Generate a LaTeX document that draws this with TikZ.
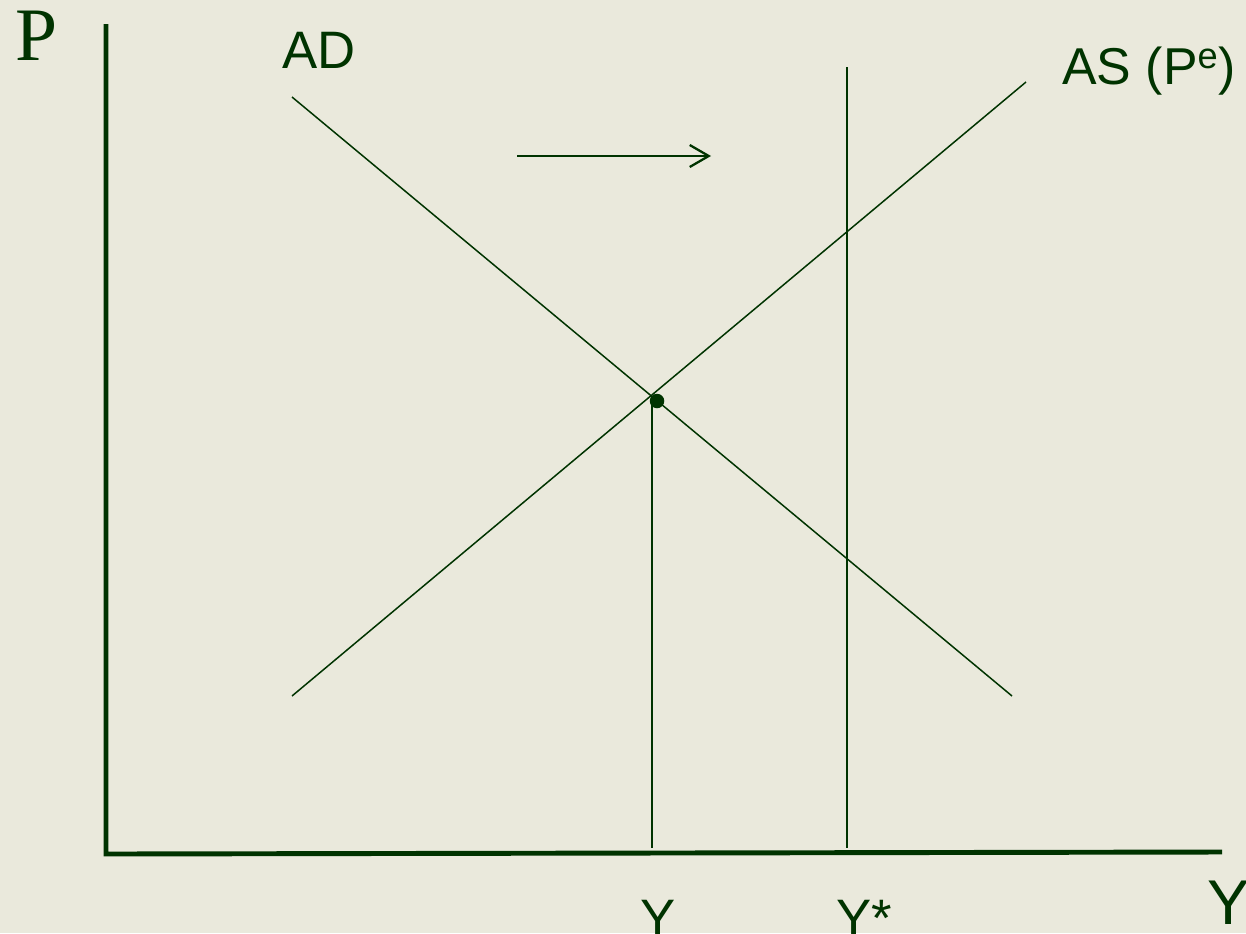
\documentclass[tikz,border=0pt]{standalone}
\usepackage{fontspec}
\setmainfont{Liberation Sans}
\newfontfamily\serifP{Liberation Serif}
\usepackage{tikz}
\usetikzlibrary{arrows.meta}
\definecolor{ink}{HTML}{003300}
\definecolor{paper}{HTML}{EAE9DC}
\tikzset{
  axis/.style     = {draw=ink, line width=2.8pt},
  curve/.style    = {draw=ink, line width=0.85pt},
  guide/.style    = {draw=ink, line width=0.85pt},
  shiftarr/.style = {-{Straight Barb[length=3.8mm,width=4.4mm]}, draw=ink, line width=1.3pt},
  lbl/.style      = {text=ink, inner sep=0pt, anchor=base west},
  eq/.style       = {circle, fill=ink, inner sep=0pt, minimum size=0.29cm},
}

\begin{document}
\begin{tikzpicture}[x=0.02cm, y=-0.02cm]

  \useasboundingbox (0,0) rectangle (1246,933);
  \fill[paper] (0,0) rectangle (1246,933);

  % axes
  \coordinate (top)    at (106,24);
  \coordinate (origin) at (106,854);
  \coordinate (right)  at (1222,852);
  \draw[axis] (top) -- (origin) -- (right);

  % curves
  \coordinate (ad1) at (292,97);
  \coordinate (ad2) at (1012,696);
  \coordinate (as1) at (292,696);
  \coordinate (as2) at (1026,82);
  \draw[curve] (ad1) -- (ad2);
  \draw[curve] (as1) -- (as2);

  % equilibrium and output levels
  \node[eq] (E) at (657,401) {};
  \coordinate (ybase)  at (652,848);
  \coordinate (yntop)  at (847,67);
  \coordinate (ynbase) at (847,848);
  \draw[guide] (E.center -| ybase) -- (ybase);
  \draw[guide] (yntop) -- (ynbase);

  % shift of AD
  \coordinate (s1) at (517,156);
  \coordinate (s2) at (711,156);
  \draw[shiftarr] (s1) -- (s2);

  % labels
  \node[lbl, font=\serifP\fontsize{43}{43}\selectfont] (P) at (15,60) {P};
  \node[lbl, font=\fontsize{30}{30}\selectfont] (AD) at (282,68) {AD};
  \node[lbl, font=\fontsize{29.5}{30}\selectfont] (AS) at (1062,84) {AS (P\textsuperscript{e})};
  \node[lbl, font=\fontsize{30}{30}\selectfont] (Y) at (640,936) {Y};
  \node[lbl, font=\fontsize{30}{30}\selectfont] (Ystar) at (836,936) {Y*};
  \node[lbl, font=\fontsize{36}{36}\selectfont] (Yaxis) at (1207,924) {Y};

\end{tikzpicture}
\end{document}
